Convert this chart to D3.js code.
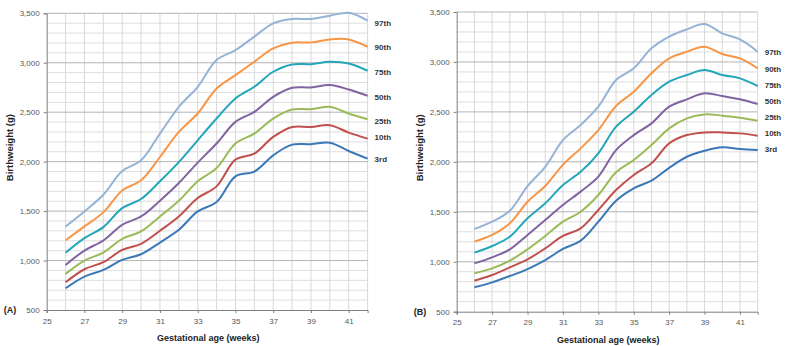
<!DOCTYPE html>
<html lang="en">
<head>
  <meta charset="UTF-8">
  <title>Birthweight centiles</title>
  <style>
    * { padding: 0; margin: 0; }
    html, body { width: 100%; height: 100%; background: #fff; }
    svg { display: block; font-family: "Liberation Sans", Arial, sans-serif; }
    .tick-label { font-size: 8px; fill: #595959; }
    .axis-title { font-size: 9px; font-weight: bold; fill: #222; }
    .y-title { font-size: 9.5px; }
    .series-label { font-size: 8px; font-weight: bold; fill: #333; }
    .panel-label { font-size: 9px; font-weight: bold; fill: #222; }
  </style>
</head>
<body>
  <svg id="svg"></svg>
  <script src="https://cdnjs.cloudflare.com/ajax/libs/d3/7.8.5/d3.min.js"></script>
  <script>
    const weeks = [26, 27, 28, 29, 30, 31, 32, 33, 34, 35, 36, 37, 38, 39, 40, 41, 42]
    const centiles = ['97th', '90th', '75th', '50th', '25th', '10th', '3rd']
    const colors = ['#95b3d7', '#f79646', '#23a6b9', '#8064a2', '#9bbb59', '#c0504d', '#3a78b8']
    const xTicks = [25, 27, 29, 31, 33, 35, 37, 39, 41]
    const yTicks = [500, 1000, 1500, 2000, 2500, 3000, 3500]

    // panel A values, one array per centile
    const a97 = [1345, 1497, 1665, 1905, 2014, 2284, 2554, 2757, 3027, 3128, 3264, 3399, 3443, 3443, 3476, 3505, 3425]
    const a90 = [1205, 1345, 1487, 1709, 1811, 2047, 2301, 2487, 2740, 2875, 3010, 3145, 3203, 3206, 3236, 3236, 3162]
    const a75 = [1078, 1226, 1338, 1530, 1622, 1801, 1995, 2216, 2436, 2639, 2757, 2909, 2983, 2986, 3010, 2993, 2919]
    const a50 = [956, 1101, 1203, 1361, 1446, 1605, 1784, 1990, 2183, 2402, 2503, 2655, 2747, 2750, 2774, 2730, 2666]
    const a25 = [865, 1000, 1081, 1220, 1294, 1446, 1605, 1801, 1935, 2183, 2284, 2436, 2527, 2530, 2554, 2487, 2429]
    const a10 = [780, 912, 983, 1108, 1169, 1301, 1446, 1632, 1750, 2020, 2081, 2250, 2351, 2351, 2368, 2294, 2233]
    const a3 = [720, 838, 905, 1007, 1064, 1182, 1311, 1497, 1591, 1851, 1900, 2064, 2172, 2176, 2192, 2108, 2030]

    // panel B values
    const b97 = [1328, 1401, 1511, 1758, 1950, 2218, 2369, 2552, 2819, 2936, 3136, 3253, 3326, 3380, 3286, 3226, 3103]
    const b90 = [1201, 1268, 1385, 1601, 1758, 1970, 2135, 2318, 2559, 2702, 2886, 3036, 3103, 3153, 3079, 3036, 2936]
    const b75 = [1091, 1158, 1251, 1435, 1585, 1768, 1900, 2085, 2352, 2502, 2669, 2802, 2869, 2919, 2869, 2836, 2759]
    const b50 = [984, 1044, 1124, 1268, 1418, 1568, 1702, 1852, 2118, 2268, 2385, 2552, 2626, 2686, 2659, 2626, 2579]
    const b25 = [884, 934, 1011, 1124, 1258, 1401, 1501, 1668, 1895, 2018, 2168, 2335, 2435, 2475, 2462, 2442, 2412]
    const b10 = [810, 867, 944, 1024, 1134, 1258, 1334, 1518, 1718, 1869, 1985, 2185, 2268, 2295, 2295, 2285, 2262]
    const b3 = [744, 794, 857, 927, 1017, 1128, 1211, 1401, 1611, 1735, 1812, 1940, 2051, 2111, 2145, 2128, 2118]

    const width = 787, height = 346

    const svg = d3.select('#svg')
      .attr('width', width)
      .attr('height', height)

    function drawPanel(opts) {
      const x = d3.scaleLinear().domain([25, 42]).range([opts.left, opts.right])
      const y = d3.scaleLinear().domain([500, 3500]).range([opts.bottom, opts.top])
      const g = svg.append('g')

      // grid
      g.append('g').selectAll('line')
        .data(d3.range(600, 3500, 100).filter(v => v % 500 !== 0))
        .join('line')
        .attr('x1', opts.left).attr('x2', opts.right)
        .attr('y1', d => y(d)).attr('y2', d => y(d))
        .attr('stroke', '#dedede').attr('stroke-width', 1)
      g.append('g').selectAll('line')
        .data(d3.range(26, 43))
        .join('line')
        .attr('x1', d => x(d)).attr('x2', d => x(d))
        .attr('y1', opts.top).attr('y2', opts.bottom)
        .attr('stroke', '#d8d8d8').attr('stroke-width', 1)
      g.append('g').selectAll('line')
        .data(yTicks.slice(1))
        .join('line')
        .attr('x1', opts.left).attr('x2', opts.right)
        .attr('y1', d => y(d)).attr('y2', d => y(d))
        .attr('stroke', '#b5b5b5').attr('stroke-width', 1)

      // axes
      const yAxis = d3.axisLeft(y).tickValues(yTicks).tickSize(3).tickFormat(d3.format(','))
      const xAxis = d3.axisBottom(x).tickValues(xTicks).tickSize(3).tickFormat(d3.format('d'))
      const ya = g.append('g').attr('transform', `translate(${opts.left},0)`).call(yAxis)
      const xa = g.append('g').attr('transform', `translate(0,${opts.bottom})`).call(xAxis)
      ;[ya, xa].forEach(a => {
        a.select('.domain').attr('stroke', '#7f7f7f')
        a.selectAll('.tick line').attr('stroke', '#7f7f7f')
        a.selectAll('.tick text').attr('class', 'tick-label').attr('font-family', null).attr('font-size', null)
      })
      ya.selectAll('.tick text').attr('x', -7)
      xa.selectAll('.tick text').attr('y', 8)

      // lines
      const line = d3.line()
        .x((d, i) => x(weeks[i]))
        .y(d => y(d))
        .curve(d3.curveCatmullRom.alpha(0.5))
      g.append('g').selectAll('path')
        .data(opts.series)
        .join('path')
        .attr('d', d => line(d))
        .attr('fill', 'none')
        .attr('stroke', (d, i) => colors[i])
        .attr('stroke-width', 2)

      // series labels
      g.append('g').selectAll('text')
        .data(centiles)
        .join('text')
        .attr('class', 'series-label')
        .attr('x', opts.right + 7)
        .attr('y', (d, i) => opts.labelY[i])
        .attr('dy', '0.35em')
        .text(d => d)

      g.append('text')
        .attr('class', 'axis-title y-title')
        .attr('transform', `translate(${opts.left - 34},${(opts.top + opts.bottom) / 2 - 14}) rotate(-90)`)
        .attr('text-anchor', 'middle')
        .text('Birthweight (g)')
      g.append('text')
        .attr('class', 'axis-title')
        .attr('x', (opts.left + opts.right) / 2 + 1)
        .attr('y', opts.bottom + 31)
        .attr('text-anchor', 'middle')
        .text('Gestational age (weeks)')
      g.append('text')
        .attr('class', 'panel-label')
        .attr('x', opts.left - 43)
        .attr('y', opts.bottom + 3)
        .text(opts.name)
    }

    drawPanel({
      name: '(A)', left: 46.7, right: 367.6, top: 13.3, bottom: 310,
      series: [a97, a90, a75, a50, a25, a10, a3],
      labelY: [23, 47, 72, 97, 121, 137, 159]
    })
    drawPanel({
      name: '(B)', left: 456.7, right: 757.7, top: 12, bottom: 311.7,
      series: [b97, b90, b75, b50, b25, b10, b3],
      labelY: [52, 69, 85, 101, 117, 133, 149]
    })
  </script>
</body>
</html>
